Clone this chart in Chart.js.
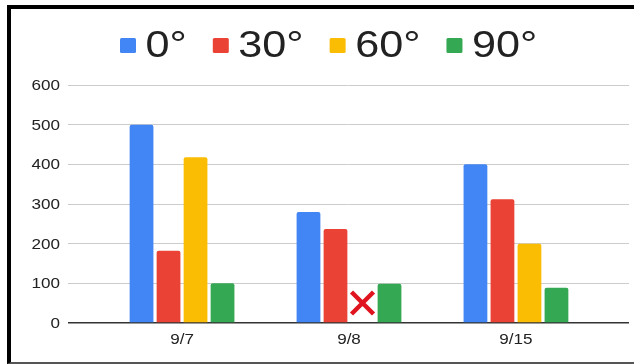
<!DOCTYPE html>
<html>
<head>
<meta charset="utf-8">
<script src="https://cdn.jsdelivr.net/npm/chart.js@4/dist/chart.umd.min.js"></script>
<style>
  html, body { margin: 0; padding: 0; background: #fff; }
  body { width: 634px; height: 364px; position: relative; overflow: hidden; font-family: "Liberation Sans", Arial, sans-serif; }
  .frame {
    position: absolute; left: 7px; top: 5px; width: 640px; height: 353px;
    border-left: 4px solid #000; border-top: 4px solid #000; border-bottom: 2px solid #555;
  }
  #wrap { position: absolute; left: 0; top: 0; width: 634px; height: 364px; }
</style>
</head>
<body>
<div class="frame"></div>
<div id="wrap"><canvas id="chart"></canvas></div>
<script>
// Dates on the x axis, one group of bars per date
const dates = ['9/7', '9/8', '9/15'];
// Angle series (null = no measurement that day)
const angles = ['0°', '30°', '60°', '90°'];
const deg0  = [500, 280, 400];
const deg30 = [182, 237, 312];
const deg60 = [418, null, 200];
const deg90 = [100, 99, 89];
const colors = ['#4285F4', '#EA4335', '#FBBC04', '#34A853'];
const yTicks = [0, 100, 200, 300, 400, 500, 600];

const FONT = '"Liberation Sans", Arial, sans-serif';
const WIDE = 1.22;        // horizontal widening of the label glyphs
const LEGEND_WIDE = 1.2;

const series = [deg0, deg30, deg60, deg90];
const datasets = series.map((vals, i) => ({
  label: angles[i],
  data: vals.map((v, j) => ({ x: j + 1, y: v })),
  backgroundColor: colors[i],
  borderRadius: 2,
  borderSkipped: 'start',
  categoryPercentage: 0.647,
  barPercentage: 0.88
}));

// Draw a text horizontally widened, anchored at (x, y)
function wideText(ctx, text, x, y, align, k) {
  ctx.save();
  ctx.translate(x, y);
  ctx.scale(k, 1);
  ctx.textAlign = align;
  ctx.fillText(text, 0, 0);
  ctx.restore();
}

// Legend row across the top
const topLegend = {
  id: 'topLegend',
  afterDraw(chart) {
    const ctx = chart.ctx;
    ctx.save();
    ctx.font = '36px ' + FONT;
    ctx.textBaseline = 'alphabetic';
    let x = 120;
    chart.data.datasets.forEach((ds) => {
      ctx.fillStyle = ds.backgroundColor;
      ctx.beginPath();
      ctx.roundRect(x, 38, 16, 15, 1.5);
      ctx.fill();
      x += 16 + 9.5;
      ctx.fillStyle = '#222';
      wideText(ctx, ds.label, x, 57, 'left', LEGEND_WIDE);
      x += ctx.measureText(ds.label).width * LEGEND_WIDE + 26;
    });
    ctx.restore();
  }
};

// Axis labels (value axis on the left, dates under the groups)
const axisLabels = {
  id: 'axisLabels',
  afterDraw(chart) {
    const ctx = chart.ctx;
    const xs = chart.scales.x, ys = chart.scales.y;
    ctx.save();
    ctx.font = '14px ' + FONT;
    ctx.fillStyle = '#222';
    ctx.textBaseline = 'alphabetic';
    yTicks.forEach(v => {
      wideText(ctx, String(v), 60, ys.getPixelForValue(v) + 5, 'right', WIDE);
    });
    dates.forEach((d, i) => {
      wideText(ctx, d, xs.getPixelForValue(i + 1), 344, 'center', WIDE);
    });
    ctx.restore();
  }
};

// Red cross where a bar has no value
const missingMark = {
  id: 'missingMark',
  afterDatasetsDraw(chart) {
    const ctx = chart.ctx;
    const y = chart.scales.y;
    chart.data.datasets.forEach((ds, di) => {
      const meta = chart.getDatasetMeta(di);
      ds.data.forEach((pt, j) => {
        if (pt.y !== null) return;
        const el = meta.data[j];
        const cx = el.x;
        const cy = y.getPixelForValue(0) - 20;
        const h = 11;
        ctx.save();
        ctx.strokeStyle = '#e0141e';
        ctx.lineWidth = 4.5;
        ctx.beginPath();
        ctx.moveTo(cx - h, cy - h); ctx.lineTo(cx + h, cy + h);
        ctx.moveTo(cx + h, cy - h); ctx.lineTo(cx - h, cy + h);
        ctx.stroke();
        ctx.restore();
      });
    });
  }
};

new Chart(document.getElementById('chart'), {
  type: 'bar',
  data: { datasets },
  plugins: [topLegend, axisLabels, missingMark],
  options: {
    responsive: true,
    maintainAspectRatio: false,
    animation: false,
    layout: { padding: { top: 85, right: 5, left: 0, bottom: 0 } },
    plugins: { legend: { display: false }, tooltip: { enabled: false } },
    scales: {
      x: {
        type: 'linear',
        offset: false,
        min: 0.317,
        max: 3.677,
        grid: { display: false, drawTicks: false },
        border: { display: false },
        afterBuildTicks(scale) { scale.ticks = dates.map((d, i) => ({ value: i + 1 })); },
        afterFit(scale) { scale.height = 41; },
        ticks: { display: false }
      },
      y: {
        min: 0,
        max: 600,
        afterBuildTicks(scale) { scale.ticks = yTicks.map(v => ({ value: v })); },
        afterFit(scale) { scale.width = 68; },
        grid: {
          drawTicks: false,
          color: (c) => c.tick && c.tick.value === 0 ? '#333' : '#cccccc',
          lineWidth: (c) => c.tick && c.tick.value === 0 ? 1.5 : 1
        },
        border: { display: false },
        ticks: { display: false }
      }
    }
  }
});
</script>
</body>
</html>
